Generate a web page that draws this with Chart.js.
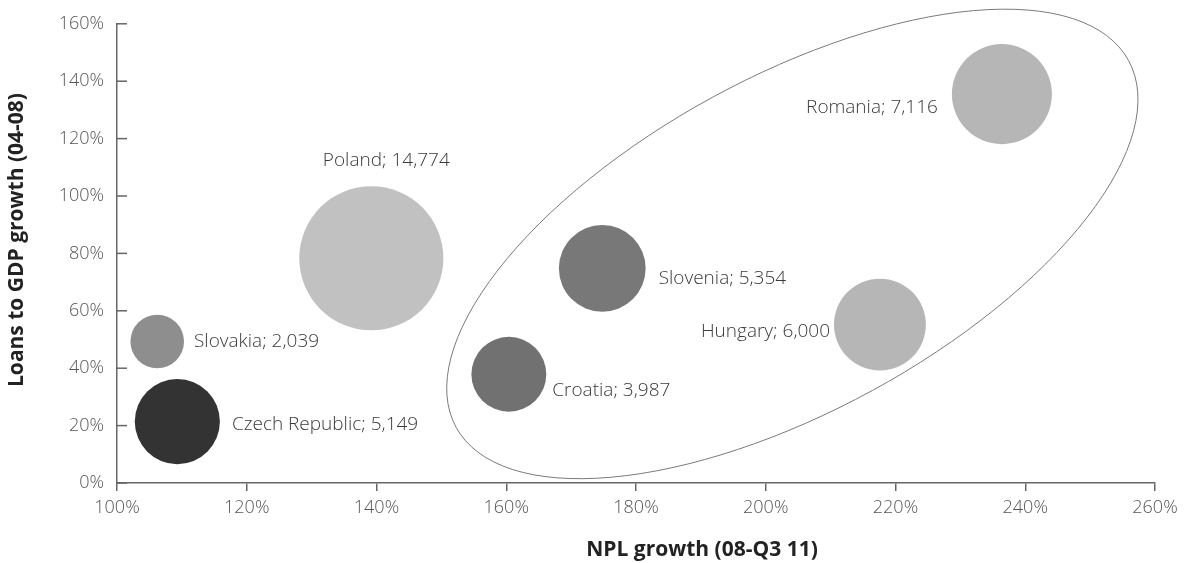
<!DOCTYPE html>
<html>
<head>
<meta charset="utf-8">
<script src="https://cdn.jsdelivr.net/npm/chart.js@4"></script>
<style>
  html, body { margin: 0; padding: 0; background: #fff; }
  #wrap { width: 1186px; height: 563px; }
</style>
</head>
<body>
<div id="wrap"><canvas id="nplChart"></canvas></div>
<script>
const countries = ['Czech Republic', 'Slovakia', 'Poland', 'Croatia', 'Slovenia', 'Hungary', 'Romania'];
const nplGrowth = [109.3, 106.2, 139.2, 160.4, 174.8, 217.6, 236.4];   // x, %
const loanGrowth = [21.4, 49.3, 78.3, 37.9, 74.8, 55.2, 135.5];        // y, %
const loanStock = [5149, 2039, 14774, 3987, 5354, 6000, 7116];         // bubble size
const bubbleColors = ['#333333', '#8e8e8e', '#c1c1c1', '#717171', '#787878', '#b6b6b6', '#b6b6b6'];

const xTitle = 'NPL growth (08-Q3 11)';
const yTitle = 'Loans to GDP growth (04-08)';

// label placement: side of the bubble and a small [dx, dy] nudge
const labelSide = ['right', 'right', 'top', 'right', 'right', 'left', 'left'];
const labelNudge = [[2, 3], [0, 0], [15, 0], [-4, 16], [3, 10], [6, 7], [-4, 13]];

// ring around the high-NPL group (centre in axis units)
const groupCentre = { x: 204.1, y: 83.3 };

const radiusScale = 0.593;
const points = countries.map((c, i) => ({
    x: nplGrowth[i],
    y: loanGrowth[i],
    r: radiusScale * Math.sqrt(loanStock[i]),
}));

const overlay = {
    id: 'overlay',
    afterDatasetsDraw(chart) {
        const { ctx, scales: { x, y } } = chart;
        const meta = chart.getDatasetMeta(0);
        ctx.save();

        // bubble labels
        ctx.font = '300 19px "Open Sans"';
        ctx.fillStyle = '#3a3a3a';
        ctx.textBaseline = 'middle';
        meta.data.forEach((pt, i) => {
            const r = pt.options.radius;
            const text = countries[i] + '; ' + loanStock[i].toLocaleString('en-US');
            const [dx, dy] = labelNudge[i];
            if (labelSide[i] === 'right') {
                ctx.textAlign = 'left';
                ctx.fillText(text, pt.x + r + 10 + dx, pt.y + dy);
            } else if (labelSide[i] === 'left') {
                ctx.textAlign = 'right';
                ctx.fillText(text, pt.x - r - 10 + dx, pt.y + dy);
            } else {
                ctx.textAlign = 'center';
                ctx.fillText(text, pt.x + dx, pt.y - r - 26 + dy);
            }
        });

        // ellipse grouping
        ctx.beginPath();
        ctx.ellipse(x.getPixelForValue(groupCentre.x), y.getPixelForValue(groupCentre.y),
            383, 167, -28.6 * Math.PI / 180, 0, Math.PI * 2);
        ctx.strokeStyle = '#7a7a7a';
        ctx.lineWidth = 1;
        ctx.stroke();

        // y tick marks point into the plot
        ctx.strokeStyle = '#666';
        ctx.lineWidth = 1.5;
        y.ticks.forEach(t => {
            const py = y.getPixelForValue(t.value);
            ctx.beginPath();
            ctx.moveTo(x.left, py);
            ctx.lineTo(x.left + 10, py);
            ctx.stroke();
        });

        // axis titles
        ctx.font = 'bold 21px "Open Sans"';
        ctx.fillStyle = '#222';
        ctx.textAlign = 'center';
        ctx.fillText(xTitle, 702, 550);
        ctx.translate(17, 240);
        ctx.rotate(-Math.PI / 2);
        ctx.fillText(yTitle, 0, 0);
        ctx.restore();
    }
};

const ctx = document.getElementById('nplChart').getContext('2d');

const nplChart = new Chart(ctx, {
    type: 'bubble',
    data: {
        datasets: [{
            data: points,
            backgroundColor: bubbleColors,
            borderWidth: 0,
            hoverBorderWidth: 0,
            clip: false,
        }],
    },
    options: {
        responsive: true,
        maintainAspectRatio: false,
        animation: false,
        events: [],
        layout: { autoPadding: false, padding: { top: 19, right: 31, left: 0, bottom: 0 } },
        scales: {
            x: {
                min: 100,
                max: 260,
                afterFit: s => { s.height = 80; },
                ticks: {
                    stepSize: 20,
                    color: '#555',
                    font: { family: 'Open Sans', size: 18, weight: 300 },
                    padding: 6,
                    maxRotation: 0,
                    callback: v => v + '%',
                },
                grid: { drawOnChartArea: false, color: '#666', lineWidth: 1.5, tickLength: 8 },
                border: { color: '#666', width: 1.5 },
            },
            y: {
                min: 0,
                max: 160,
                afterFit: s => { s.width = 117; },
                ticks: {
                    stepSize: 20,
                    color: '#555',
                    font: { family: 'Open Sans', size: 18, weight: 300 },
                    padding: 13,
                    callback: v => v + '%',
                },
                grid: { drawOnChartArea: false, drawTicks: false },
                border: { color: '#666', width: 1.5 },
            },
        },
        plugins: {
            legend: { display: false },
            tooltip: { enabled: false },
        },
    },
    plugins: [overlay],
});
</script>
</body>
</html>
